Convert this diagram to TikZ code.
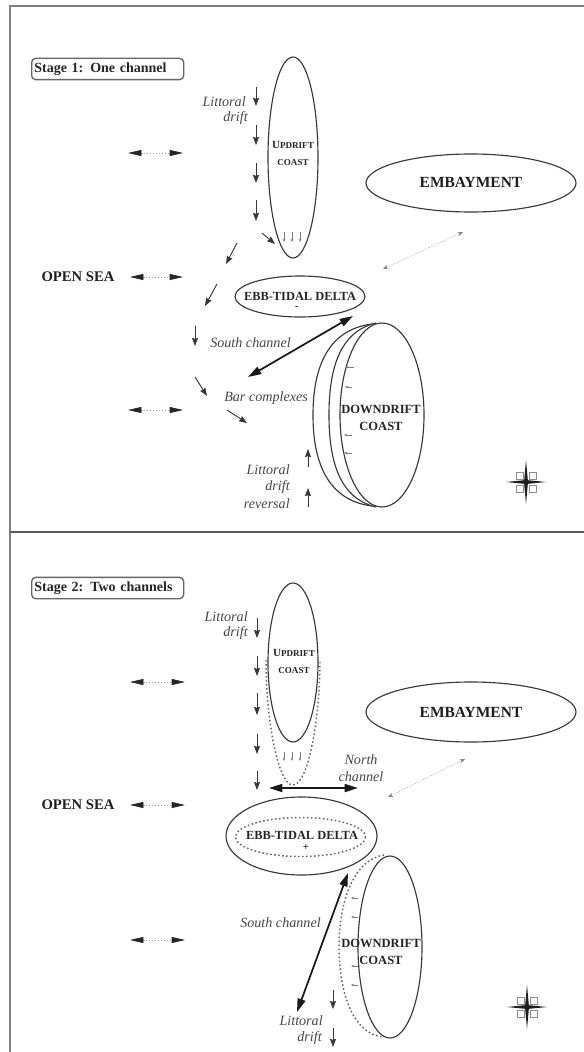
\documentclass[tikz,border=0pt]{standalone}
\usepackage{fontspec}
\setmainfont{Liberation Serif}
\usetikzlibrary{arrows.meta}
\tikzset{
  x=0.75pt,y=-0.75pt,
  coast/.style={draw,line width=0.85pt,black!78},
  dots/.style={draw,line width=1.1pt,black!60,dash pattern=on 1.2pt off 1.8pt},
  frameline/.style={draw,line width=1.4pt,black!50},
  drift/.style={-{Stealth[length=6pt,width=4.5pt,inset=0.6pt]},line width=0.7pt,black!78},
  tiny/.style={-{Stealth[length=2.5pt,width=2pt]},line width=0.4pt,black!50},
  channel/.style={{Stealth[length=10pt,width=6pt,inset=0pt]}-{Stealth[length=10pt,width=6pt,inset=0pt]},line width=1.3pt,black!90},
  tidal/.style={{Stealth[length=10pt,width=4.5pt,inset=0pt,color=black!85]}-{Stealth[length=10pt,width=4.5pt,inset=0pt,color=black!85]},line width=0.5pt,dash pattern=on 1pt off 1.2pt,black!40},
  inlet/.style={{Stealth[length=4pt,width=3pt,color=black!50]}-{Stealth[length=4pt,width=3pt,color=black!50]},line width=0.4pt,dash pattern=on 1pt off 1.2pt,black!35},
  place/.style={font=\bfseries\fontsize{11pt}{12pt}\selectfont,inner sep=0pt,black!88},
  bay/.style={font=\bfseries\fontsize{11.6pt}{12pt}\selectfont,inner sep=0pt,black!88},
  delta/.style={font=\bfseries\fontsize{9.3pt}{10pt}\selectfont,inner sep=0pt,black!85},
  coasttext/.style={font=\bfseries\fontsize{9.4pt}{12.7pt}\selectfont,inner sep=0pt,align=center,black!85},
  small/.style={font=\bfseries\fontsize{8.2pt}{12.7pt}\selectfont,inner sep=0pt,align=center,black!85},
  note/.style={font=\itshape\fontsize{10.6pt}{12pt}\selectfont,inner sep=0pt,black!72},
  stagebox/.style={draw=black!60,line width=1pt,rounded corners=3pt,minimum width=114pt,minimum height=16pt,inner sep=2pt,text width=110pt,font=\bfseries\fontsize{10.5pt}{11pt}\selectfont,text=black!85},
  sign/.style={font=\bfseries\fontsize{8pt}{8pt}\selectfont,inner sep=0pt,black!85}
}
\newcommand{\windrose}[3]{%
  \coordinate (#3n) at (#1,#2-22); \coordinate (#3s) at (#1,#2+22);
  \coordinate (#3w) at (#1-20,#2); \coordinate (#3e) at (#1+20,#2);
  \foreach \sx in {-1,1}{\foreach \sy in {-1,1}{
    \draw[black!45,line width=0.7pt] (#1+\sx*3,#2+\sy*3) rectangle (#1+\sx*10,#2+\sy*10);}}
  \fill[black!88] (#3n) -- (#1+2,#2) -- (#3s) -- (#1-2,#2) -- cycle;
  \fill[black!88] (#3w) -- (#1,#2+2) -- (#3e) -- (#1,#2-2) -- cycle;
}
\newcommand{\arr}[6]{\coordinate (#1a) at (#3,#4); \coordinate (#1b) at (#5,#6); \draw[#2] (#1a) -- (#1b);}
\begin{document}
\begin{tikzpicture}
\useasboundingbox (0,0) rectangle (584,1052);
\fill[white] (0,0) rectangle (584,1052);
% frame
\coordinate (tl) at (10,6); \coordinate (tr) at (584,6);
\coordinate (bl) at (10,1052); \coordinate (ml) at (10,532); \coordinate (mr) at (584,532);
\draw[frameline] (tr) -- (tl) -- (bl);
\draw[frameline,black!65] (ml) -- (mr);

% ---------- Stage 1 ----------
\node[stagebox,anchor=west] (s1) at (31,69) {Stage 1: One channel};
\draw[coast] (293,157.5) ellipse [x radius=25,y radius=100.5];
\node[small] (up1) at (293,153) {U\fontsize{6.8pt}{12.7pt}\selectfont PDRIFT\\ \fontsize{6.8pt}{12.7pt}\selectfont COAST};
\draw[coast] (471,183) ellipse [x radius=105,y radius=29];
\node[bay] (em1) at (471,182) {EMBAYMENT};
\draw[coast] (300,296.5) ellipse [x radius=65,y radius=20.5];
\node[delta] (eb1) at (300,296) {EBB-TIDAL DELTA};
\node[sign] (mi1) at (297,308) {-};
\draw[coast] (382,415) ellipse [x radius=42,y radius=92];
\draw[coast] (376,323) .. controls (338,332) and (329,372) .. (329,415) .. controls (329,458) and (338,498) .. (376,507);
\draw[coast] (372,324) .. controls (325,330) and (313,372) .. (313,415) .. controls (313,458) and (325,500) .. (372,506);
\node[coasttext] (do1) at (381,418) {DOWNDRIFT\\COAST};
\node[place] (os1) at (78,277) {OPEN SEA};

\arr{ta}{tidal}{128}{153}{183}{153}
\arr{tb}{tidal}{130}{277}{183}{277}
\arr{tc}{tidal}{128}{410}{183}{410}
\arr{ia}{inlet}{383}{269}{463}{232}

\node[note,anchor=east] (li1) at (246,102) {Littoral};
\node[note,anchor=east] (dr1) at (248,118) {drift};
\arr{da}{drift}{256}{87}{256}{106}
\arr{db}{drift}{256}{125}{256}{145}
\arr{dc}{drift}{256}{163}{256}{183}
\arr{dd}{drift}{256}{200}{256}{221}
\arr{de}{drift}{262}{233}{275}{244}
\arr{df}{drift}{237}{243}{226}{264}
\arr{dg}{drift}{217}{284}{205}{306}
\arr{dh}{drift}{195}{326}{195}{346}
\arr{di}{drift}{195}{377}{207}{396}
\arr{dj}{drift}{227}{410}{247}{423}
\arr{dk}{drift}{308}{467}{308}{449}
\arr{dl}{drift}{308}{507}{308}{488}
\arr{sa}{tiny}{284}{232}{284}{242}
\arr{sb}{tiny}{292}{232}{292}{242}
\arr{sc}{tiny}{300}{232}{300}{242}
\arr{ka}{tiny}{354}{367}{345}{367}
\arr{kb}{tiny}{352}{387}{345}{387}
\arr{kc}{tiny}{352}{435}{344}{435}
\arr{kd}{tiny}{352}{453}{344}{453}
\arr{ca}{channel}{353}{316}{248}{377}
\node[note,anchor=west] (so1) at (210,343) {South channel};
\node[note,anchor=west] (ba1) at (224,398) {Bar complexes};
\node[note,anchor=east] (li1b) at (290,470) {Littoral};
\node[note,anchor=east] (dr1b) at (290,487) {drift};
\node[note,anchor=east] (re1b) at (290,504) {reversal};
\windrose{526}{482}{wa}

% ---------- Stage 2 ----------
\node[stagebox,anchor=west] (s2) at (31,588) {Stage 2: Two channels};
\draw[coast] (293,662.5) ellipse [x radius=25,y radius=79.5];
\node[small] (up2) at (294,661) {U\fontsize{6.8pt}{12.7pt}\selectfont PDRIFT\\ \fontsize{6.8pt}{12.7pt}\selectfont COAST};
\draw[dots] (266,660) .. controls (266,720) and (278,785) .. (293,785) .. controls (308,785) and (320,720) .. (320,660);
\draw[coast] (471,712) ellipse [x radius=105,y radius=30];
\node[bay] (em2) at (471,712) {EMBAYMENT};
\draw[coast] (301.5,836) ellipse [x radius=75.5,y radius=39];
\draw[dots] (300.5,837) ellipse [x radius=65,y radius=19.5];
\node[delta] (eb2) at (302,835) {EBB-TIDAL DELTA};
\node[sign] (pl2) at (306,847) {+};
\draw[coast] (390,947) ellipse [x radius=32,y radius=91];
\draw[dots] (384,855) .. controls (352,860) and (339,905) .. (339,947) .. controls (339,990) and (352,1035) .. (384,1037);
\node[coasttext] (do2) at (381,952) {DOWNDRIFT\\COAST};
\node[place] (os2) at (78,805) {OPEN SEA};

\arr{tg}{tidal}{130}{682}{185}{682}
\arr{th}{tidal}{130}{805}{185}{805}
\arr{ti}{tidal}{130}{940}{185}{940}
\arr{ib}{inlet}{388}{797}{465}{759}

\node[note,anchor=east] (li2) at (248,617) {Littoral};
\node[note,anchor=east] (dr2) at (248,633) {drift};
\arr{ea}{drift}{257}{618}{257}{638}
\arr{eb}{drift}{257}{656}{257}{676}
\arr{ec}{drift}{257}{693}{257}{715}
\arr{ed}{drift}{257}{734}{257}{754}
\arr{ee}{drift}{257}{771}{257}{790}
\arr{ef}{drift}{333}{990}{333}{1009}
\arr{eg}{drift}{333}{1028}{333}{1047}
\arr{ma}{tiny}{284}{752}{284}{761}
\arr{mb}{tiny}{292}{752}{292}{761}
\arr{mc}{tiny}{300}{752}{300}{761}
\arr{na}{tiny}{358}{898}{351}{898}
\arr{nb}{tiny}{358}{917}{351}{917}
\arr{nc}{tiny}{358}{966}{351}{966}
\arr{nd}{tiny}{358}{985}{351}{985}
\arr{cb}{channel}{269}{788}{358}{788}
\arr{cc}{channel}{348}{873}{297}{1012}
\node[note,anchor=center] (no2) at (361,760) {North};
\node[note,anchor=center] (ch2) at (361,777) {channel};
\node[note,anchor=west] (so2) at (240,923) {South channel};
\node[note,anchor=east] (li2b) at (323,1021) {Littoral};
\node[note,anchor=east] (dr2b) at (322,1038) {drift};
\windrose{527}{1007}{wb}
\end{tikzpicture}
\end{document}
